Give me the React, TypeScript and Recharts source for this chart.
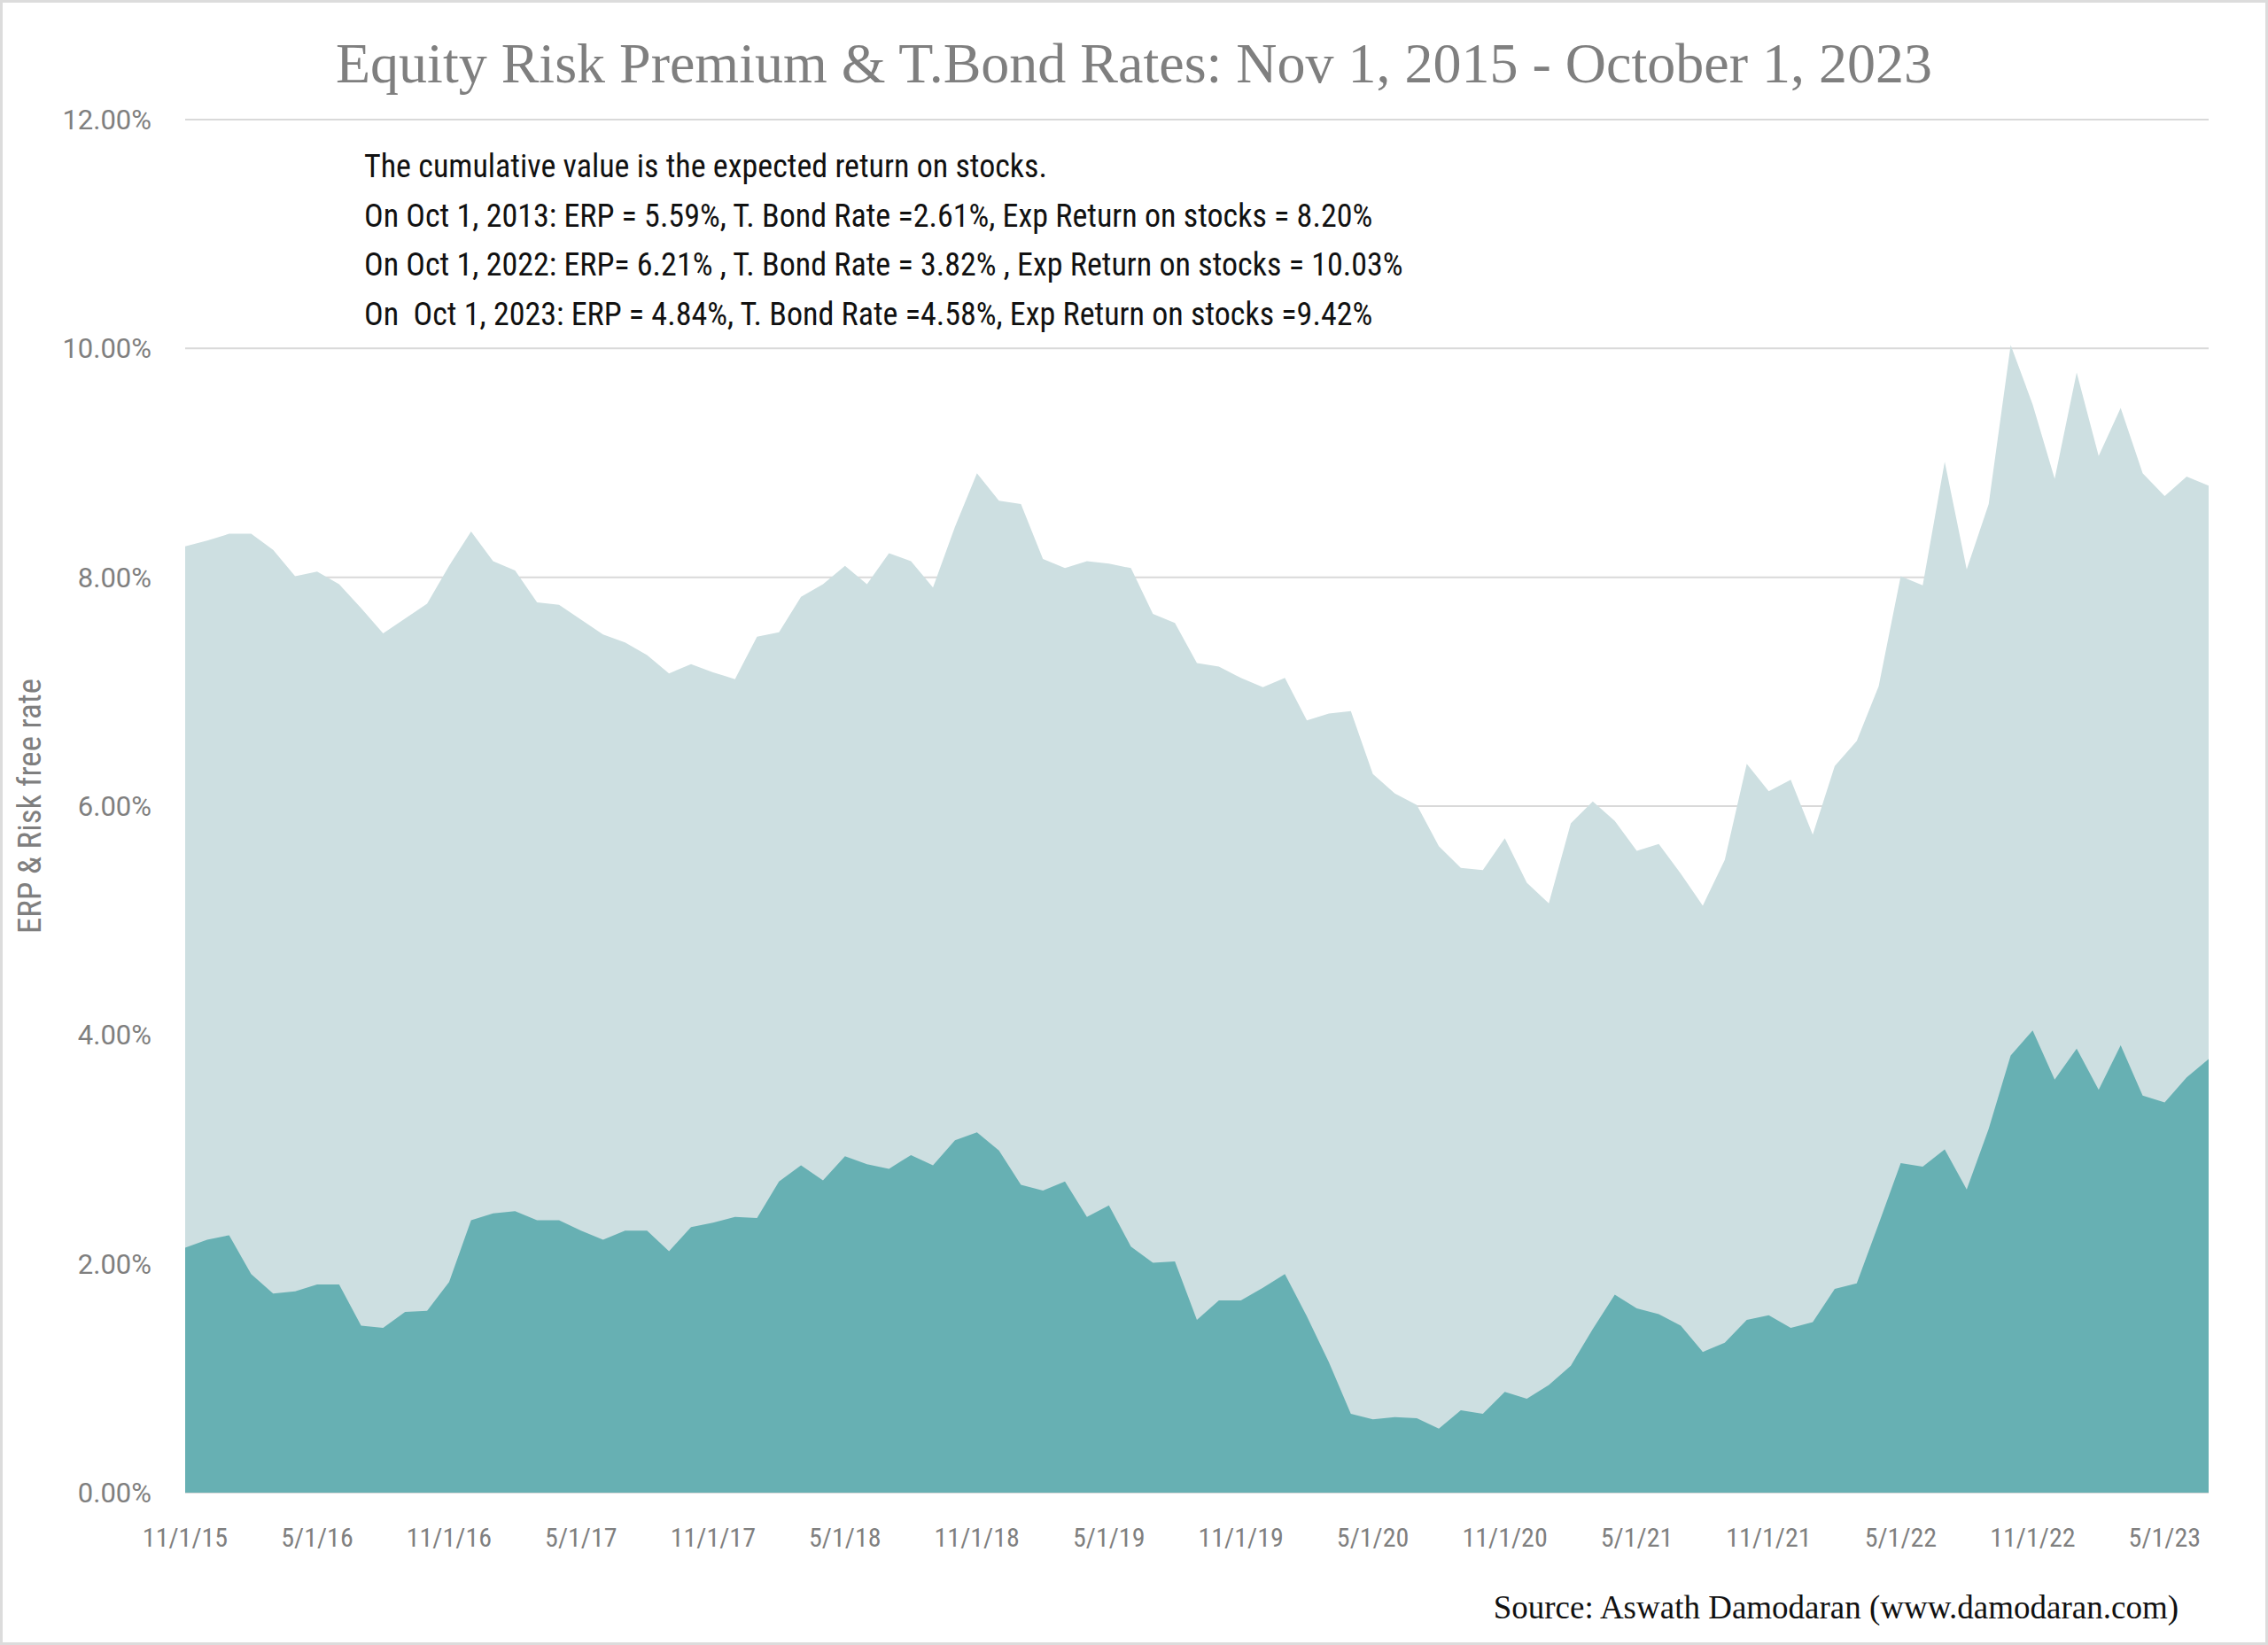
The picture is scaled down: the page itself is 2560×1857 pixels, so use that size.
import React from "react";
import { AreaChart, Area, XAxis, YAxis, CartesianGrid } from "recharts";

const DATES = [
  "11/1/15", "12/1/15", "1/1/16", "2/1/16", "3/1/16", "4/1/16", "5/1/16", "6/1/16", "7/1/16", "8/1/16",
  "9/1/16", "10/1/16", "11/1/16", "12/1/16", "1/1/17", "2/1/17", "3/1/17", "4/1/17", "5/1/17", "6/1/17",
  "7/1/17", "8/1/17", "9/1/17", "10/1/17", "11/1/17", "12/1/17", "1/1/18", "2/1/18", "3/1/18", "4/1/18",
  "5/1/18", "6/1/18", "7/1/18", "8/1/18", "9/1/18", "10/1/18", "11/1/18", "12/1/18", "1/1/19", "2/1/19",
  "3/1/19", "4/1/19", "5/1/19", "6/1/19", "7/1/19", "8/1/19", "9/1/19", "10/1/19", "11/1/19", "12/1/19",
  "1/1/20", "2/1/20", "3/1/20", "4/1/20", "5/1/20", "6/1/20", "7/1/20", "8/1/20", "9/1/20", "10/1/20",
  "11/1/20", "12/1/20", "1/1/21", "2/1/21", "3/1/21", "4/1/21", "5/1/21", "6/1/21", "7/1/21", "8/1/21",
  "9/1/21", "10/1/21", "11/1/21", "12/1/21", "1/1/22", "2/1/22", "3/1/22", "4/1/22", "5/1/22", "6/1/22",
  "7/1/22", "8/1/22", "9/1/22", "10/1/22", "11/1/22", "12/1/22", "1/1/23", "2/1/23", "3/1/23", "4/1/23",
  "5/1/23", "6/1/23", "7/1/23",
];

// T.Bond rate (%), bottom dark area
const TBOND = [
  2.14, 2.21, 2.25, 1.91, 1.74, 1.76, 1.82, 1.82, 1.46, 1.44,
  1.58, 1.59, 1.84, 2.38, 2.44, 2.46, 2.38, 2.38, 2.29, 2.21,
  2.29, 2.29, 2.11, 2.32, 2.36, 2.41, 2.40, 2.72, 2.86, 2.73,
  2.94, 2.87, 2.83, 2.95, 2.86, 3.08, 3.15, 2.99, 2.69, 2.64,
  2.72, 2.41, 2.51, 2.15, 2.01, 2.02, 1.51, 1.68, 1.68, 1.79,
  1.91, 1.54, 1.14, 0.69, 0.64, 0.66, 0.65, 0.56, 0.72, 0.69,
  0.88, 0.82, 0.94, 1.11, 1.43, 1.73, 1.61, 1.56, 1.46, 1.23,
  1.31, 1.51, 1.55, 1.44, 1.49, 1.78, 1.83, 2.35, 2.88, 2.85,
  3.00, 2.65, 3.18, 3.82, 4.04, 3.61, 3.88, 3.52, 3.91, 3.47,
  3.41, 3.63, 3.79,
];

// ERP + T.Bond = expected return on stocks (%), light area
const EXP_RETURN = [
  8.27, 8.32, 8.38, 8.38, 8.24, 8.01, 8.05, 7.94, 7.73, 7.51,
  7.64, 7.77, 8.10, 8.40, 8.14, 8.06, 7.78, 7.76, 7.63, 7.50,
  7.43, 7.32, 7.16, 7.24, 7.17, 7.11, 7.48, 7.52, 7.83, 7.94,
  8.10, 7.94, 8.21, 8.14, 7.91, 8.44, 8.91, 8.67, 8.64, 8.16,
  8.08, 8.14, 8.12, 8.08, 7.68, 7.60, 7.25, 7.22, 7.12, 7.04,
  7.12, 6.75, 6.81, 6.83, 6.28, 6.11, 6.01, 5.65, 5.46, 5.44,
  5.72, 5.33, 5.15, 5.85, 6.04, 5.87, 5.61, 5.67, 5.41, 5.13,
  5.53, 6.37, 6.13, 6.23, 5.75, 6.35, 6.57, 7.05, 8.01, 7.93,
  9.01, 8.07, 8.64, 10.03, 9.51, 8.86, 9.79, 9.06, 9.48, 8.91,
  8.71, 8.88, 8.80,
];

const Y_TICKS = [0, 2, 4, 6, 8, 10, 12];

const NOTES = [
  "The cumulative value is the expected return on stocks.",
  "On Oct 1, 2013: ERP = 5.59%, T. Bond Rate =2.61%, Exp Return on stocks = 8.20%",
  "On Oct 1, 2022: ERP= 6.21% , T. Bond Rate = 3.82% , Exp Return on stocks = 10.03%",
  "On  Oct 1, 2023: ERP = 4.84%, T. Bond Rate =4.58%, Exp Return on stocks =9.42%",
];

const data = DATES.map((d, i) => ({ date: d, total: EXP_RETURN[i], tbond: TBOND[i] }));

const SANS = "'Roboto Condensed', 'Liberation Sans Narrow', 'DejaVu Sans Condensed', Roboto, sans-serif";
const SERIF = "'Liberation Serif', 'DejaVu Serif', serif";

export default function App() {
  return (
    <div
      style={{
        position: "relative",
        width: 2560,
        height: 1857,
        background: "#fff",
        border: "3px solid #dcdcdc",
        boxSizing: "border-box",
      }}
    >
      <style>{`body{margin:0}`}</style>
      <div
        style={{
          position: "absolute",
          left: 0,
          top: 34,
          width: 2554,
          textAlign: "center",
          fontFamily: SERIF,
          fontSize: 64,
          lineHeight: "70px",
          color: "#7f7f7f",
        }}
      >
        Equity Risk Premium &amp; T.Bond Rates: Nov 1, 2015 - October 1, 2023
      </div>
      <div style={{ position: "absolute", left: 0, top: 0 }}>
        <AreaChart width={2554} height={1851} data={data} margin={{ top: 132, right: 64, left: 0, bottom: 0 }}>
          <CartesianGrid vertical={false} stroke="#d9d9d9" strokeWidth={2} />
          <XAxis
            dataKey="date"
            interval={5}
            axisLine={false}
            tickLine={false}
            tickSize={0}
            tickMargin={40}
            height={169}
            tick={{ fill: "#7f7f7f", fontSize: 30, fontFamily: SANS }}
          />
          <YAxis
            domain={[0, 12]}
            ticks={Y_TICKS}
            width={206}
            axisLine={false}
            tickLine={false}
            tickSize={0}
            tickMargin={38}
            tickFormatter={(v: number) => v.toFixed(2) + "%"}
            tick={{ fill: "#7f7f7f", fontSize: 31, fontFamily: "Roboto, sans-serif" }}
            label={{
              value: "ERP  & Risk free rate",
              angle: -90,
              position: "insideLeft",
              offset: 30,
              style: { fill: "#7f7f7f", fontSize: 37, fontFamily: SANS, textAnchor: "middle" },
            }}
          />
          <Area
            type="linear"
            dataKey="total"
            stroke="none"
            fill="#cddfe1"
            fillOpacity={1}
            isAnimationActive={false}
            dot={false}
            activeDot={false}
          />
          <Area
            type="linear"
            dataKey="tbond"
            stroke="none"
            fill="#67b0b3"
            fillOpacity={1}
            isAnimationActive={false}
            dot={false}
            activeDot={false}
          />
        </AreaChart>
      </div>
      <div
        style={{
          position: "absolute",
          left: 408,
          top: 158,
          fontFamily: SANS,
          fontSize: 36,
          lineHeight: "55.6px",
          color: "#111",
          whiteSpace: "pre",
        }}
      >
        {NOTES.map((t) => (
          <div key={t}>{t}</div>
        ))}
      </div>
      <div
        style={{
          position: "absolute",
          right: 98,
          top: 1790,
          fontFamily: SERIF,
          fontSize: 37,
          color: "#111",
        }}
      >
        Source: Aswath Damodaran (www.damodaran.com)
      </div>
    </div>
  );
}
